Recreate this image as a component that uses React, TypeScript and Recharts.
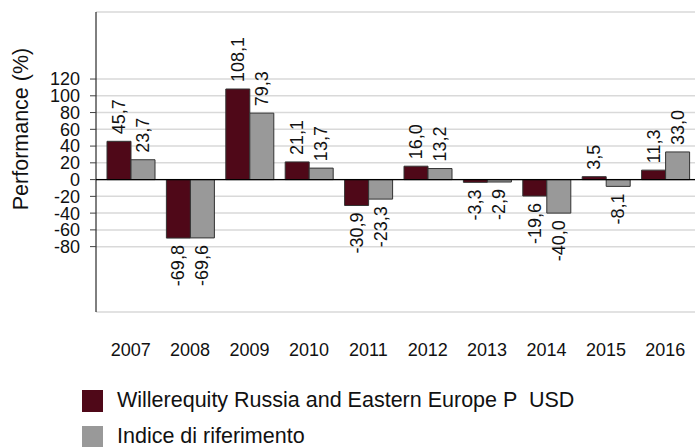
import React from "react";
import {
  BarChart,
  Bar,
  XAxis,
  YAxis,
  CartesianGrid,
  ReferenceLine,
  LabelList,
} from "recharts";

const years = ["2007", "2008", "2009", "2010", "2011", "2012", "2013", "2014", "2015", "2016"];
const fundValues = [45.7, -69.8, 108.1, 21.1, -30.9, 16.0, -3.3, -19.6, 3.5, 11.3];
const indexValues = [23.7, -69.6, 79.3, 13.7, -23.3, 13.2, -2.9, -40.0, -8.1, 33.0];
const yTicks = [-80, -60, -40, -20, 0, 20, 40, 60, 80, 100, 120];

const fundName = "Willerequity Russia and Eastern Europe P  USD";
const indexName = "Indice di riferimento";

const FONT = "'Liberation Sans', Arial, sans-serif";
const MAROON = "#4f0818";
const GREY = "#999999";

if (typeof document !== "undefined") {
  document.body.style.margin = "0";
}

const chartData = years.map((y, i) => ({
  year: y,
  fund: fundValues[i],
  index: indexValues[i],
}));

const fmt = (v: number) => v.toFixed(1).replace(".", ",");

// rotated value label, above positive bars and below negative ones
const BarValueLabel = (props: any) => {
  const { x, y, width, height, value } = props;
  const cx = Number(x) + Number(width) / 2;
  const top = Math.min(Number(y), Number(y) + Number(height));
  const bottom = Math.max(Number(y), Number(y) + Number(height));
  const positive = Number(value) >= 0;
  const py = positive ? top - 7 : bottom + 7;
  return (
    <text
      x={cx}
      y={py}
      transform={`rotate(-90, ${cx}, ${py})`}
      textAnchor={positive ? "start" : "end"}
      dominantBaseline="central"
      fontSize={18}
      fontFamily={FONT}
      fill="#111"
    >
      {fmt(Number(value))}
    </text>
  );
};

const YearTick = (props: any) => {
  const { x, y, payload } = props;
  return (
    <text x={x} y={y + 36} textAnchor="middle" fontSize={18} fontFamily={FONT} fill="#111">
      {payload.value}
    </text>
  );
};

export default function App() {
  return (
    <div style={{ position: "relative", width: 695, height: 447, background: "#fff", overflow: "hidden" }}>
      <BarChart
        width={695}
        height={447}
        data={chartData}
        margin={{ top: 12, right: 0, left: 0, bottom: 105 }}
        barSize={24}
        barGap={0}
      >
        <CartesianGrid horizontal vertical={false} stroke="#d9d9d9" strokeWidth={1.5} />
        <XAxis
          dataKey="year"
          axisLine={false}
          tickLine={false}
          height={30}
          padding={{ left: 5, right: 0 }}
          tick={<YearTick />}
          interval={0}
        />
        <YAxis
          width={96}
          domain={[-158, 200]}
          ticks={yTicks}
          interval={0}
          allowDataOverflow
          axisLine={{ stroke: "#000", strokeWidth: 1 }}
          tickLine={{ stroke: "#404040" }}
          tickSize={6}
          tickMargin={10}
          tick={{ fontSize: 18, fontFamily: FONT, fill: "#111" }}
        />
        <ReferenceLine y={0} stroke="#000" strokeWidth={1.2} />
        <Bar dataKey="fund" name={fundName} fill={MAROON} stroke="#333" strokeWidth={1} isAnimationActive={false}>
          <LabelList dataKey="fund" content={<BarValueLabel />} />
        </Bar>
        <Bar dataKey="index" name={indexName} fill={GREY} stroke="#333" strokeWidth={1} isAnimationActive={false}>
          <LabelList dataKey="index" content={<BarValueLabel />} />
        </Bar>
      </BarChart>
      {/* y axis title */}
      <div
        style={{
          position: "absolute",
          left: 22,
          top: 129,
          transform: "translate(-50%, -50%) rotate(-90deg)",
          fontFamily: FONT,
          fontSize: 21.5,
          color: "#111",
          whiteSpace: "nowrap",
          lineHeight: 1,
        }}
      >
        Performance (%)
      </div>
      <div style={{ position: "absolute", left: 82, top: 390, fontFamily: FONT, fontSize: 21.5, color: "#111", lineHeight: 1 }}>
        <div style={{ display: "flex", alignItems: "center", height: 22, marginBottom: 14 }}>
          <div style={{ width: 21, height: 22, background: MAROON, marginRight: 14 }} />
          <span style={{ whiteSpace: "pre" }}>{fundName}</span>
        </div>
        <div style={{ display: "flex", alignItems: "center", height: 22 }}>
          <div style={{ width: 21, height: 22, background: GREY, marginRight: 14 }} />
          <span style={{ whiteSpace: "pre" }}>{indexName}</span>
        </div>
      </div>
    </div>
  );
}
